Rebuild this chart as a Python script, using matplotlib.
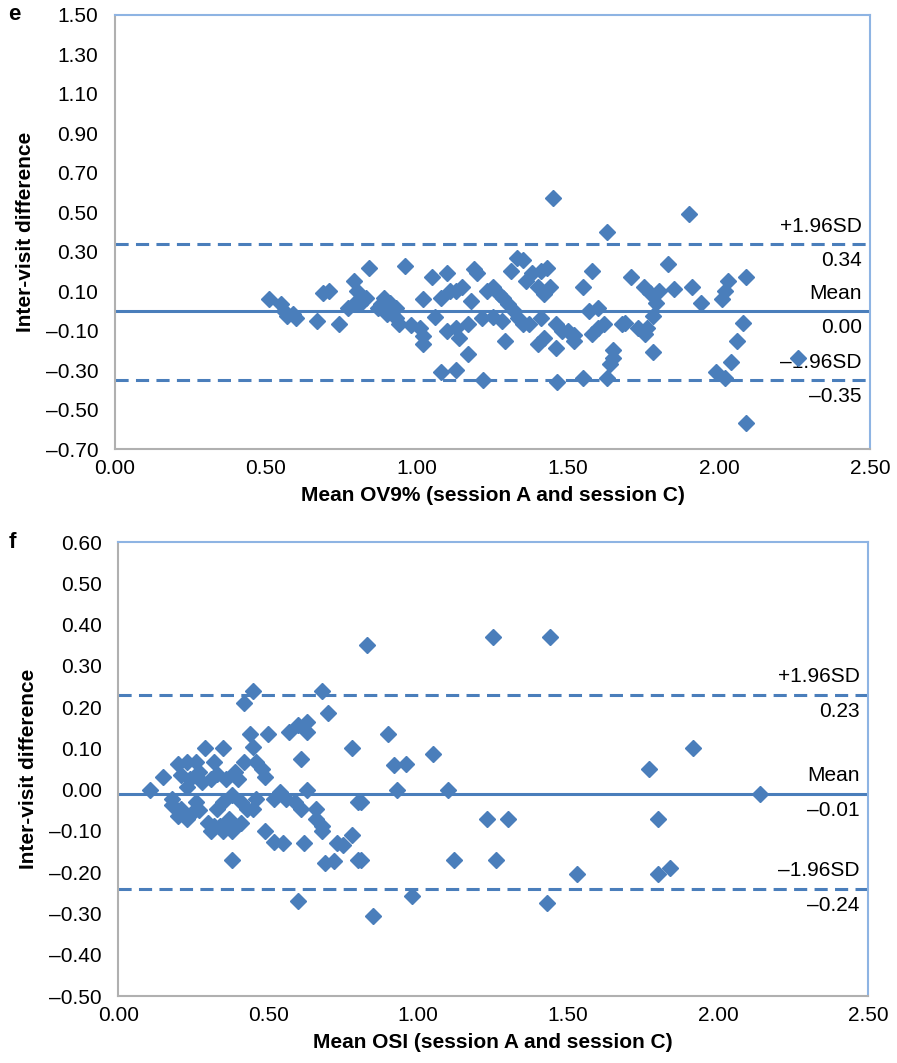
import matplotlib.pyplot as plt
from matplotlib.ticker import FuncFormatter
import numpy as np

plt.rcParams['font.family'] = ['Liberation Sans', 'DejaVu Sans']

# panel e: OV9%
ov9_mean = [0.51, 0.55, 0.56, 0.57, 0.59, 0.60, 0.69, 0.71, 0.67, 0.74, 0.84, 0.79, 0.80, 0.79, 0.81, 0.77, 0.83, 0.87,
            0.96, 0.89, 0.91, 0.93, 0.88, 0.90, 0.93, 0.94, 1.02, 1.01, 1.02, 1.02, 1.05, 1.10, 1.08, 1.11, 1.13, 1.15,
            1.10, 1.13, 1.14, 1.17, 1.17, 1.08, 1.13, 1.19, 1.20, 1.215, 1.22, 1.23, 1.25, 1.27, 1.285, 1.30, 1.29,
            1.31, 1.33, 1.35, 1.32, 1.335, 1.35, 1.37, 1.36, 1.38, 1.41, 1.43, 1.40, 1.42, 1.44, 1.45, 1.41, 1.42,
            1.46, 1.46, 1.465, 1.48, 1.50, 1.52, 1.55, 1.55, 1.58, 1.57, 1.60, 1.60, 1.58, 1.62, 1.63, 1.65, 1.64,
            1.63, 1.65, 1.68, 1.71, 1.73, 1.75, 1.76,
            1.90, 1.83, 1.77, 1.80, 1.85, 1.91, 1.94, 1.79, 1.78, 1.69, 1.755, 1.78, 2.03, 2.02, 2.01, 2.09, 2.08,
            2.06, 2.04, 1.99, 2.02, 2.26, 2.09,
            1.28, 1.25, 1.40, 1.52, 1.18, 0.98, 1.06]
ov9_diff = [0.06, 0.035, 0.00, -0.025, -0.015, -0.035, 0.09, 0.10, -0.05, -0.066, 0.22, 0.15, 0.10, 0.035, 0.035, 0.015, 0.065, 0.015,
            0.23, 0.065, 0.04, 0.015, 0.035, -0.015, -0.035, -0.065, 0.06, -0.085, -0.125, -0.17, 0.17, 0.19, 0.065, 0.10, 0.10, 0.12,
            -0.10, -0.085, -0.135, -0.065, -0.22, -0.31, -0.30, 0.21, 0.19, -0.035, -0.35, 0.10, 0.12, 0.085, 0.065, 0.035, -0.15,
            0.20, 0.27, 0.26, 0.00, -0.035, -0.065, -0.065, 0.15, 0.19, 0.20, 0.22, 0.12, 0.085, 0.12, 0.57, -0.035, -0.135,
            -0.065, -0.19, -0.36, -0.10, -0.10, -0.15, -0.34, 0.12, 0.20, 0.00, 0.015, -0.085, -0.115, -0.065, 0.40, -0.20, -0.27,
            -0.34, -0.24, -0.065, 0.17, -0.085, 0.12, -0.085,
            0.49, 0.24, 0.09, 0.10, 0.11, 0.12, 0.04, 0.04, -0.025, -0.06, -0.115, -0.21, 0.15, 0.10, 0.06, 0.17, -0.06,
            -0.15, -0.26, -0.31, -0.34, -0.24, -0.57,
            -0.05, -0.03, -0.17, -0.12, 0.05, -0.07, -0.03]
ov9_limits = [0.34, 0.00, -0.35]

# panel f: OSI
osi_mean = [0.107, 0.15, 0.20, 0.23, 0.26, 0.29, 0.35, 0.32, 0.27, 0.21, 0.24, 0.23, 0.28, 0.31, 0.33, 0.36, 0.39, 0.42, 0.40,
            0.18, 0.21, 0.18, 0.23, 0.20, 0.26, 0.25, 0.27, 0.30, 0.32, 0.31, 0.34, 0.35, 0.38, 0.41, 0.37, 0.33, 0.35,
            0.38, 0.41, 0.43, 0.44, 0.45, 0.50, 0.42, 0.45, 0.46, 0.48, 0.49, 0.46, 0.45, 0.49, 0.52, 0.55, 0.54, 0.52,
            0.56, 0.59, 0.61, 0.63, 0.57, 0.60, 0.63, 0.63, 0.61, 0.68, 0.70, 0.62, 0.66, 0.66, 0.68, 0.68,
            0.38, 0.60, 0.69, 0.72, 0.73, 0.78, 0.80, 0.78, 0.80, 0.83,
            1.25, 1.44, 0.90, 0.92, 0.96, 1.05, 0.93, 1.10, 0.81, 0.75, 0.81, 1.23, 1.30, 1.12, 1.26, 1.53, 0.98,
            1.43, 0.85,
            1.915, 1.77, 2.14, 1.80, 1.84, 1.80]
osi_diff = [0.00, 0.03, 0.062, 0.067, 0.067, 0.10, 0.10, 0.067, 0.043, 0.035, 0.026, 0.006, 0.018, 0.026, 0.038, 0.026, 0.043, 0.067, 0.026,
            -0.023, -0.047, -0.038, -0.072, -0.063, -0.03, -0.055, -0.05, -0.08, -0.087, -0.10, -0.087, -0.10, -0.10, -0.08, -0.072, -0.047, -0.03,
            -0.014, -0.03, -0.047, 0.136, 0.104, 0.136, 0.21, 0.24, 0.067, 0.05, 0.03, -0.023, -0.047, -0.10, -0.127, -0.13, -0.006, -0.023,
            -0.023, -0.03, -0.047, 0.00, 0.14, 0.157, 0.165, 0.14, 0.075, 0.24, 0.185, -0.13, -0.047, -0.072, -0.087, -0.10,
            -0.17, -0.27, -0.177, -0.172, -0.13, -0.11, -0.03, 0.10, -0.17, 0.35,
            0.37, 0.37, 0.135, 0.06, 0.062, 0.087, 0.00, 0.00, -0.03, -0.135, -0.17, -0.072, -0.072, -0.17, -0.17, -0.205, -0.257,
            -0.275, -0.305,
            0.10, 0.05, -0.01, -0.072, -0.19, -0.205]
osi_limits = [0.23, -0.01, -0.24]

blue = '#4a7ebb'
limit_names = ['+1.96SD', 'Mean', '\u20131.96SD']
fs = 15


def fmt(v, pos=None):
    s = f'{abs(v):.2f}'
    return '\u2013' + s if v < -1e-9 else s


fig = plt.figure(figsize=(8.97, 10.63), dpi=100)
ax1 = fig.add_axes([0.1282, 0.5776, 0.8418, 0.4083])
ax2 = fig.add_axes([0.1320, 0.0630, 0.8357, 0.4271])

panels = [
    (ax1, ov9_mean, ov9_diff, ov9_limits, (-0.70, 1.50), np.arange(-0.70, 1.51, 0.20), 'Mean OV9% (session A and session C)', 'e'),
    (ax2, osi_mean, osi_diff, osi_limits, (-0.50, 0.60), np.arange(-0.50, 0.61, 0.10), 'Mean OSI (session A and session C)', 'f'),
]

for ax, xs, ys, lims, ylim, yticks, xlabel, letter in panels:
    for i, v in enumerate(lims):
        if i == 1:
            ax.axhline(v, color=blue, lw=2.2, zorder=2)
        else:
            ax.axhline(v, color=blue, lw=2.2, dashes=(4.3, 2.4), zorder=2)
        ax.annotate(limit_names[i], xy=(0.989, v), xycoords=('axes fraction', 'data'),
                    xytext=(0, 6), textcoords='offset points', ha='right', va='bottom', fontsize=fs)
        ax.annotate(fmt(v), xy=(0.989, v), xycoords=('axes fraction', 'data'),
                    xytext=(0, -5), textcoords='offset points', ha='right', va='top', fontsize=fs)
    ax.plot(xs, ys, 'D', color=blue, ms=8, mec=blue, zorder=3, clip_on=False)
    ax.set_xlim(0, 2.5)
    ax.set_ylim(*ylim)
    ax.set_xticks(np.arange(0, 2.51, 0.5))
    ax.set_yticks(yticks)
    ax.xaxis.set_major_formatter(FuncFormatter(fmt))
    ax.yaxis.set_major_formatter(FuncFormatter(fmt))
    ax.tick_params(length=0, labelsize=fs)
    ax.tick_params(axis='y', pad=12)
    ax.tick_params(axis='x', pad=7)
    ax.set_xlabel(xlabel, fontsize=fs, fontweight='bold', labelpad=6)
    ax.set_ylabel('Inter-visit difference', fontsize=fs, fontweight='bold', labelpad=8)
    for side in ['left', 'bottom']:
        ax.spines[side].set_color('#b0b0b0')
        ax.spines[side].set_linewidth(1.5)
    for side in ['top', 'right']:
        ax.spines[side].set_color('#8eb4e3')
        ax.spines[side].set_linewidth(1.5)
    fig.text(0.0095, ax.get_position().y1, letter, fontsize=16, fontweight='bold', va='center', ha='left')

fig.savefig('out.png', dpi=100)
